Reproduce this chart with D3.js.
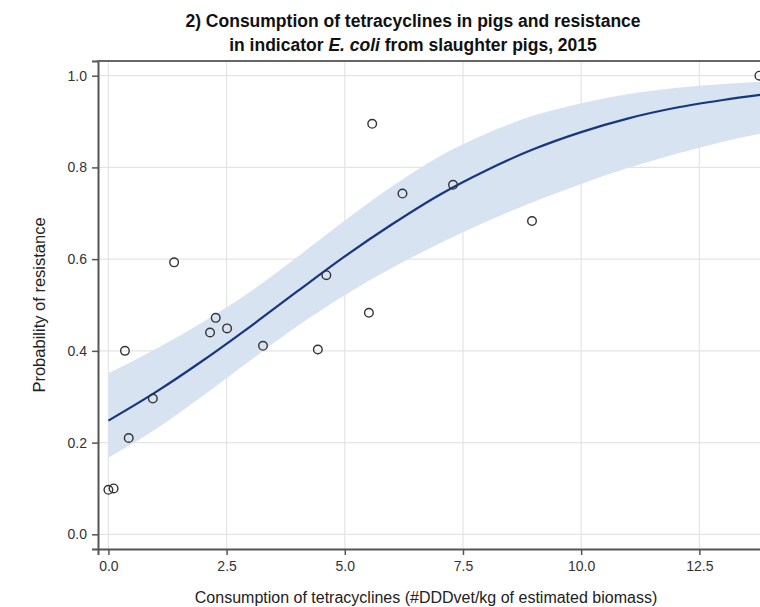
<!DOCTYPE html>
<html>
<head>
<meta charset="utf-8">
<script src="https://cdn.jsdelivr.net/npm/d3@7"></script>
<style>
  body { margin: 0; background: #fff; }
  text { font-family: "Liberation Sans", Arial, sans-serif; }
</style>
</head>
<body>
<div id="chart"></div>
<script>
// observed countries: consumption vs. share of resistant isolates
var consumption = [0.0, 0.11, 0.35, 0.43, 0.94, 1.39, 2.15, 2.27, 2.51, 3.27, 4.43, 4.61, 5.51, 5.58, 6.22, 7.29, 8.96, 13.77];
var resistance  = [0.097, 0.10, 0.40, 0.21, 0.296, 0.593, 0.44, 0.472, 0.449, 0.411, 0.403, 0.565, 0.483, 0.895, 0.743, 0.762, 0.683, 1.0];

// fitted curve and confidence band
var fitX     = [0, 1, 2, 3, 4, 5, 6, 7, 8, 9, 10, 11, 12, 13, 14];
var fitY     = [0.248, 0.310, 0.379, 0.453, 0.530, 0.606, 0.676, 0.740, 0.794, 0.840, 0.877, 0.907, 0.930, 0.947, 0.961];
var fitUpper = [0.351, 0.404, 0.463, 0.529, 0.605, 0.684, 0.759, 0.824, 0.874, 0.913, 0.940, 0.960, 0.973, 0.982, 0.988];
var fitLower = [0.167, 0.229, 0.302, 0.379, 0.454, 0.521, 0.581, 0.634, 0.682, 0.725, 0.764, 0.799, 0.829, 0.856, 0.878];

var xTicks = [0, 2.5, 5, 7.5, 10, 12.5];
var yTicks = [0, 0.2, 0.4, 0.6, 0.8, 1.0];

var width = 760, height = 607;

var svg = d3.select("#chart")
    .append("svg")
    .attr("width", width)
    .attr("height", height);

var x = d3.scaleLinear().domain([-0.22, 14.1]).range([98, 775]);
var y = d3.scaleLinear().domain([-0.032, 1.032]).range([549, 61]);

// grid
svg.append("g").selectAll("line")
    .data(xTicks).enter().append("line")
    .attr("x1", d => x(d)).attr("x2", d => x(d))
    .attr("y1", y.range()[1]).attr("y2", y.range()[0])
    .attr("stroke", "#e4e4e4").attr("stroke-width", 1.2);
svg.append("g").selectAll("line")
    .data(yTicks).enter().append("line")
    .attr("x1", x.range()[0]).attr("x2", x.range()[1])
    .attr("y1", d => y(d)).attr("y2", d => y(d))
    .attr("stroke", "#e4e4e4").attr("stroke-width", 1.2);

var fit = fitX.map(function(d, i) {
    return {x: d, y: fitY[i], lo: fitLower[i], hi: fitUpper[i]};
});

svg.append("path")
    .datum(fit)
    .attr("fill", "#d8e3f2")
    .attr("d", d3.area()
        .curve(d3.curveMonotoneX)
        .x(d => x(d.x))
        .y0(d => y(d.lo))
        .y1(d => y(d.hi)));

svg.append("path")
    .datum(fit)
    .attr("fill", "none")
    .attr("stroke", "#16367f")
    .attr("stroke-width", 2.2)
    .attr("d", d3.line()
        .curve(d3.curveMonotoneX)
        .x(d => x(d.x))
        .y(d => y(d.y)));

svg.append("g").selectAll("circle")
    .data(consumption).enter().append("circle")
    .attr("cx", d => x(d))
    .attr("cy", (d, i) => y(resistance[i]))
    .attr("r", 4.3)
    .attr("fill", "none")
    .attr("stroke", "#333")
    .attr("stroke-width", 1.4);

// axes
var xAxis = svg.append("g")
    .attr("transform", "translate(0," + y.range()[0] + ")")
    .call(d3.axisBottom(x).tickValues(xTicks).tickFormat(d3.format(".1f")).tickSizeOuter(0).tickSize(6).tickPadding(6));
var yAxis = svg.append("g")
    .attr("transform", "translate(" + x.range()[0] + ",0)")
    .call(d3.axisLeft(y).tickValues(yTicks).tickFormat(d3.format(".1f")).tickSizeOuter(0).tickSize(6).tickPadding(5));

[xAxis, yAxis].forEach(function(a) {
    a.select(".domain").attr("stroke", "#555").attr("stroke-width", 2);
    a.selectAll(".tick line").attr("stroke", "#555").attr("stroke-width", 1.5);
    a.selectAll(".tick text")
        .attr("fill", "#333")
        .attr("font-size", 14)
        .attr("font-family", "'Liberation Sans', Arial, sans-serif");
});

// top border
svg.append("line")
    .attr("x1", x.range()[0] - 1).attr("x2", x.range()[1])
    .attr("y1", y.range()[1]).attr("y2", y.range()[1])
    .attr("stroke", "#666").attr("stroke-width", 2);

// titles
var title = svg.append("text")
    .attr("text-anchor", "middle")
    .attr("font-weight", "bold")
    .attr("font-size", 17.5)
    .attr("fill", "#111");
title.append("tspan").attr("x", 413).attr("y", 27)
    .text("2) Consumption of tetracyclines in pigs and resistance");
var t2 = title.append("tspan").attr("x", 413).attr("y", 51);
t2.append("tspan").text("in indicator ");
t2.append("tspan").attr("font-style", "italic").text("E. coli");
t2.append("tspan").text(" from slaughter pigs, 2015");

svg.append("text")
    .attr("x", 426).attr("y", 603)
    .attr("text-anchor", "middle")
    .attr("font-size", 16)
    .attr("fill", "#222")
    .text("Consumption of tetracyclines (#DDDvet/kg of estimated biomass)");

svg.append("text")
    .attr("transform", "translate(45,305) rotate(-90)")
    .attr("text-anchor", "middle")
    .attr("font-size", 16.5)
    .attr("fill", "#222")
    .text("Probability of resistance");
</script>
</body>
</html>
